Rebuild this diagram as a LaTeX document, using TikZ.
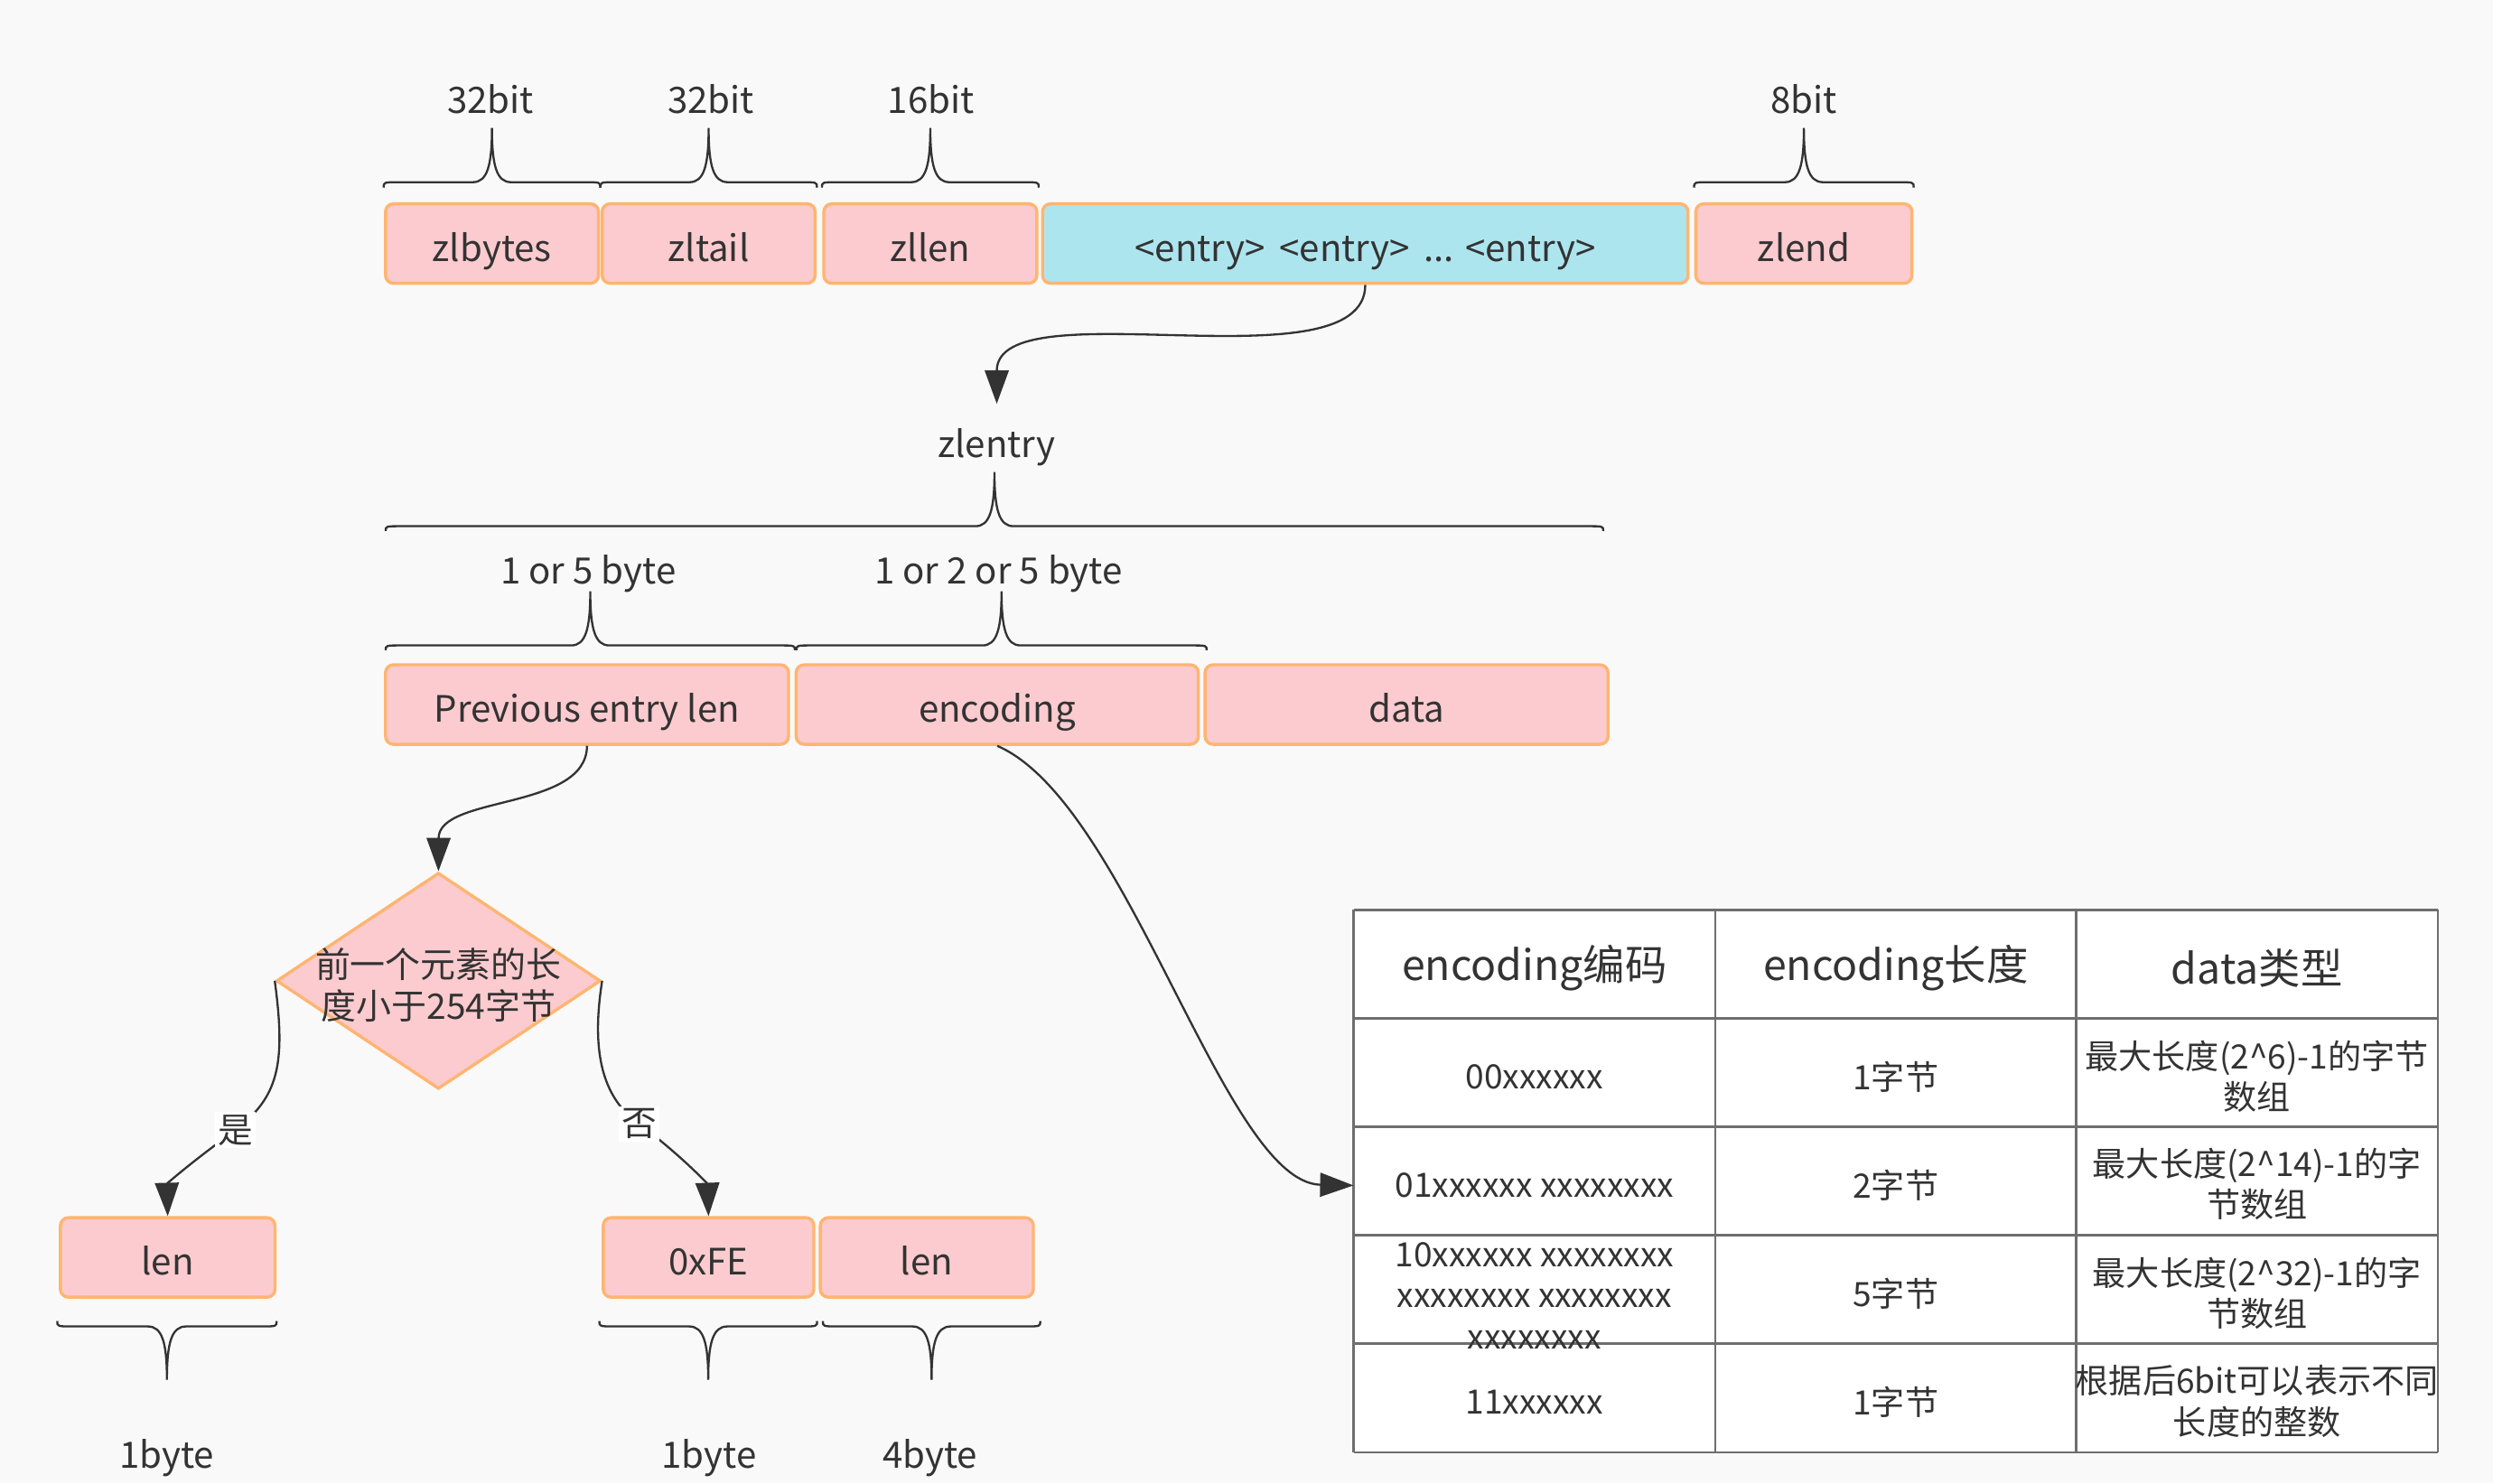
\documentclass[tikz,border=0pt]{standalone}
\usepackage{fontspec}
\setmainfont{Noto Sans CJK SC}
\usetikzlibrary{shapes.geometric,arrows.meta}

\definecolor{bgcol}{RGB}{249,249,249}
\definecolor{fieldpink}{RGB}{251,203,207}
\definecolor{fieldline}{RGB}{255,181,112}
\definecolor{entrycyan}{RGB}{173,229,238}
\definecolor{inkgray}{RGB}{51,51,51}
\definecolor{gridgray}{RGB}{110,110,110}

% curly size bracket: left x, right x, end y, bar y, tip y
\newcommand\sizebrace[5]{%
  \draw[bracket] (#1,#3) .. controls (#1,#4) .. ({#1+10},#4) -- ({(#1+#2)/2-12},#4)
    .. controls ({(#1+#2)/2-3},#4) and ({(#1+#2)/2},{0.7*#4+0.3*#5}) .. ({(#1+#2)/2},#5)
    .. controls ({(#1+#2)/2},{0.7*#4+0.3*#5}) and ({(#1+#2)/2+3},#4) .. ({(#1+#2)/2+12},#4)
    -- ({#2-10},#4) .. controls (#2,#4) .. (#2,#3);}

\begin{document}
\begin{tikzpicture}[x=0.2mm,y=-0.2mm,font={\fontsize{13}{15.6}\selectfont},text=inkgray]
    \tikzstyle{field}=[draw=fieldline,fill=fieldpink,line width=1.1pt,rounded corners=1mm,minimum height=10mm,inner sep=0,text height=4.4mm,text depth=0pt];
    \tikzstyle{decision}=[diamond,draw=fieldline,fill=fieldpink,line width=1.1pt,minimum width=40.8mm,minimum height=27.2mm,inner sep=0];
    \tikzstyle{conn}=[draw=inkgray,line width=0.75pt,-{Triangle[length=4.2mm,width=3mm]}];
    \tikzstyle{bracket}=[draw=inkgray,line width=0.75pt];
    \tikzstyle{edgelabel}=[fill=white,inner sep=1pt,font={\fontsize{12.5}{15}\selectfont}];
    \tikzstyle{grid}=[draw=gridgray,line width=0.8pt];
    \tikzstyle{cell}=[minimum width=45.4mm,minimum height=13.6mm,inner sep=0,align=center,font={\fontsize{12}{14.6}\selectfont}];
    \tikzstyle{head}=[cell,font={\fontsize{15}{18}\selectfont}];

    \fill[bgcol] (0,0) rectangle (1568.2,933);
    \useasboundingbox (0,0) rectangle (1568.2,933);

    % ziplist header
    \node (zlbytes) [field,minimum width=26.8mm] at (309.5,153.2) {zlbytes};
    \node (zltail) [field,minimum width=26.8mm] at (445.75,153.2) {zltail};
    \node (zllen) [field,minimum width=26.8mm] at (585.2,153.2) {zllen};
    \node (entries) [field,fill=entrycyan,minimum width=81.2mm] at (858.8,153.2) {<entry>\, <entry>\, ... <entry>};
    \node (zlend) [field,minimum width=27.2mm] at (1134.7,153.2) {zlend};

    \node (zlbytes-bits) at (308.5,62.5) {32bit};
    \node (zltail-bits) at (447.2,62.5) {32bit};
    \node (zllen-bits) at (585.6,62.5) {16bit};
    \node (zlend-bits) at (1134.5,62.5) {8bit};

    \sizebrace{241.3}{377.6}{118}{114.6}{80.5}
    \sizebrace{377.6}{513.9}{118}{114.6}{80.5}
    \sizebrace{517}{653.4}{118}{114.6}{80.5}
    \sizebrace{1065.6}{1203.8}{118}{114.6}{80.5}

    % one entry
    \node (zlentry) [anchor=north,inner ysep=3mm] at (627,254) {zlentry};
    \sizebrace{242.6}{1008.5}{334}{331}{297}

    \node (prevlen-size) at (370,361) {1 or 5 byte};
    \node (encoding-size) at (628,361) {1 or 2 or 5 byte};
    \sizebrace{242.6}{500}{409}{406}{372}
    \sizebrace{501}{759}{409}{406}{372}

    \node (prevlen) [field,minimum width=50.7mm] at (369.25,443.2) {Previous entry len};
    \node (encoding) [field,minimum width=50.6mm] at (627.3,443.2) {encoding};
    \node (data) [field,minimum width=50.7mm] at (884.75,443.2) {data};

    % previous entry length
    \node (cond) [decision,label={[align=center,yshift=-0.5mm,font={\fontsize{12.6}{14.9}\selectfont}]center:前一个元素的长\\度小于254字节}] at (275.8,617) {};
    \node (shortlen) [field,minimum width=27mm] at (105.5,791) {len};
    \node (marker) [field,minimum width=26.5mm] at (445.7,791) {0xFE};
    \node (longlen) [field,minimum width=26.8mm] at (583,791) {len};

    \sizebrace{36}{174}{831}{834.4}{868}
    \sizebrace{377}{514}{831}{834.4}{868}
    \sizebrace{517.6}{654.4}{831}{834.4}{868}
    \node (shortlen-size) at (105,917) {1byte};
    \node (marker-size) at (446,917) {1byte};
    \node (longlen-size) at (585,917) {4byte};

    % encoding table
    \fill[white] (851.5,572.4) rectangle (1533.4,913.5);
    \foreach \r in {0,...,5}{
        \draw[grid] (851.5,{572.4+68.22*\r}) -- (1533.4,{572.4+68.22*\r});
    }
    \foreach \c in {851.5,1079,1306,1533.4}{
        \draw[grid] (\c,572.4) -- (\c,913.5);
    }

    \node (cell-0-1) [head] at (965.25,609) {encoding编码};
    \node (cell-0-2) [head] at (1192.5,609) {encoding长度};
    \node (cell-0-3) [head] at (1419.7,609) {data类型};

    \node (cell-1-1) [cell] at (965.25,677.5) {00xxxxxx};
    \node (cell-1-2) [cell] at (1192.5,677.5) {1字节};
    \node (cell-1-3) [cell] at (1419.7,677) {最大长度(2\textasciicircum6)-1的字节\\数组};

    \node (cell-2-1) [cell] at (965.25,745.7) {01xxxxxx xxxxxxxx};
    \node (cell-2-2) [cell] at (1192.5,745.7) {2字节};
    \node (cell-2-3) [cell] at (1419.7,745) {最大长度(2\textasciicircum14)-1的字\\节数组};

    \node (cell-3-1) [cell] at (965.25,815) {10xxxxxx xxxxxxxx\\xxxxxxxx xxxxxxxx\\xxxxxxxx};
    \node (cell-3-2) [cell] at (1192.5,814) {5字节};
    \node (cell-3-3) [cell] at (1419.7,813.5) {最大长度(2\textasciicircum32)-1的字\\节数组};

    \node (cell-4-1) [cell] at (965.25,882.2) {11xxxxxx};
    \node (cell-4-2) [cell] at (1192.5,882.2) {1字节};
    \node (cell-4-3) [cell] at (1419.7,881.5) {根据后6bit可以表示不同\\长度的整数};

    % connectors
    \draw[conn] (entries.south) .. controls (858.8,245) and (627,180) .. (zlentry.north);
    \draw[conn] (prevlen.south) .. controls (369,510) and (276,500) .. (cond.north);
    \draw[conn] (cond.west) .. controls (180,670) and (175,690) .. (148,711) node[edgelabel] (yes) {是}
        .. controls (115,735) and (105,745) .. (shortlen.north);
    \draw[conn] (cond.east) .. controls (372,660) and (378,690) .. (402,707) node[edgelabel] (no) {否}
        .. controls (430,728) and (445,745) .. (marker.north);
    \draw[conn] (encoding.south) .. controls (710,505) and (770,744) .. (cell-2-1.west);

\end{tikzpicture}
\end{document}
